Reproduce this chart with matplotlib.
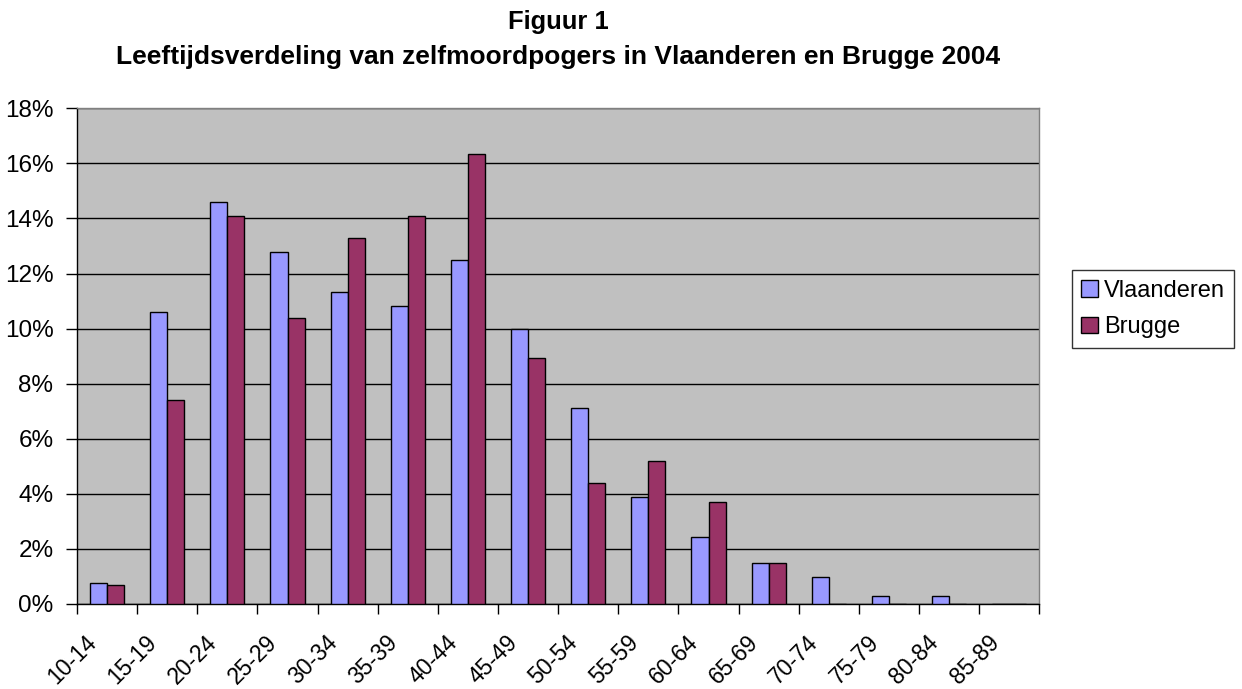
import matplotlib
matplotlib.use("Agg")
import matplotlib.pyplot as plt
import matplotlib.transforms as mtransforms
from matplotlib.ticker import FixedLocator, FuncFormatter
import numpy as np

categories = ["10-14", "15-19", "20-24", "25-29", "30-34", "35-39", "40-44", "45-49",
              "50-54", "55-59", "60-64", "65-69", "70-74", "75-79", "80-84", "85-89"]
vlaanderen = [0.77, 10.59, 14.61, 12.78, 11.32, 10.81, 12.50, 10.00,
              7.10, 3.90, 2.45, 1.50, 0.99, 0.28, 0.28, 0.0]
brugge = [0.70, 7.41, 14.08, 10.38, 13.28, 14.08, 16.34, 8.92,
          4.41, 5.21, 3.70, 1.50, 0.0, 0.0, 0.0, 0.0]
yticks = [0, 2, 4, 6, 8, 10, 12, 14, 16, 18]
title_line1 = "Figuur 1"
title_line2 = "Leeftijdsverdeling van zelfmoordpogers in Vlaanderen en Brugge 2004"

plt.rcParams['font.family'] = ['Liberation Sans', 'DejaVu Sans']

W, H = 1242, 689
fig = plt.figure(figsize=(W / 100, H / 100), dpi=100)
fig.patch.set_facecolor('white')

left, right, top, bottom = 77, 1039.3, 108.3, 604
ax = fig.add_axes([left / W, 1 - bottom / H, (right - left) / W, (bottom - top) / H])
ax.set_facecolor('#C0C0C0')

x = np.arange(len(categories))
bw = 0.283
ax.bar(x - bw / 2, vlaanderen, bw, color='#9999FF', edgecolor='black', linewidth=1.0,
       label='Vlaanderen', zorder=3)
ax.bar(x + bw / 2, brugge, bw, color='#993366', edgecolor='black', linewidth=1.0,
       label='Brugge', zorder=3)

ax.set_xlim(-0.5, len(categories) - 0.5)
ax.set_ylim(0, 18)
ax.set_yticks(yticks)
ax.yaxis.set_major_formatter(FuncFormatter(lambda v, p: f"{v:.0f}%"))
ax.yaxis.grid(True, color='black', linewidth=1.0, zorder=1)
ax.set_axisbelow(True)

ax.set_xticks(x)
ax.set_xticklabels(categories, rotation=45, ha='right', va='top', rotation_mode='anchor')
ax.xaxis.set_minor_locator(FixedLocator(np.arange(-0.5, len(categories), 1.0)))
ax.tick_params(axis='x', which='major', length=0, labelsize=16.5, pad=19.5)
ax.tick_params(axis='x', which='minor', length=7, width=1.0, color='black', direction='out')
ax.tick_params(axis='y', which='major', length=8, width=1.0, color='black', labelsize=17.5, pad=9)

offset = mtransforms.ScaledTranslation(-22 / 100, 0, fig.dpi_scale_trans)
for lbl in ax.get_xticklabels():
    lbl.set_transform(lbl.get_transform() + offset)

for s in ['left', 'bottom']:
    ax.spines[s].set_color('black')
    ax.spines[s].set_linewidth(1.0)
for s in ['top', 'right']:
    ax.spines[s].set_color('#808080')
    ax.spines[s].set_linewidth(1.0)

cx = (left + right) / 2 / W
fig.text(cx, 1 - 22.5 / H, title_line1, ha='center', va='center', fontsize=18.4, fontweight='bold')
fig.text(cx, 1 - 57 / H, title_line2, ha='center', va='center', fontsize=19, fontweight='bold')

leg = fig.legend(loc='center left', bbox_to_anchor=(1072 / W, 1 - 309 / H),
                 bbox_transform=fig.transFigure, fontsize=17, frameon=True, fancybox=False,
                 edgecolor='black', handlelength=0.7, handleheight=0.7, handletextpad=0.25,
                 labelspacing=0.6, borderpad=0.4, borderaxespad=0)
leg.get_frame().set_linewidth(1.0)

fig.savefig('out.png', dpi=100, facecolor='white')
